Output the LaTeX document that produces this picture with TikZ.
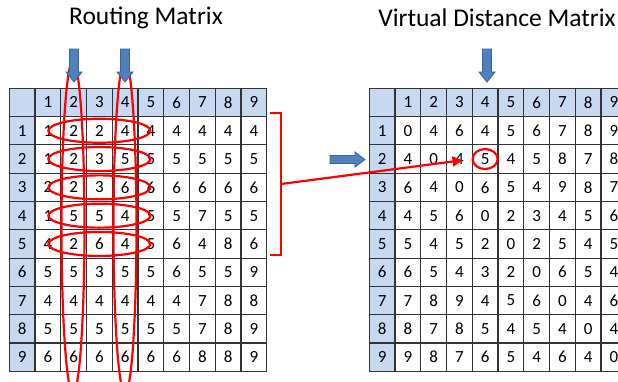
\documentclass[tikz,border=0pt]{standalone}
\usepackage{fontspec}
\setmainfont{Carlito}
\usetikzlibrary{shapes.geometric,arrows.meta}
\definecolor{hdrblue}{HTML}{C6D9F1}
\definecolor{arrblue}{HTML}{4F81BD}
\definecolor{arredge}{HTML}{3A6497}
\definecolor{gridgray}{HTML}{333333}

\begin{document}
\begin{tikzpicture}[x=1pt,y=-1pt,
  cell/.style={draw=gridgray, line width=1.1pt, minimum width=25.74pt, minimum height=28.3pt,
    inner sep=0pt, font=\fontsize{17}{17}\selectfont},
  hdr/.style={cell, fill=hdrblue},
  redline/.style={draw=red, line width=2.2pt},
  bluearrow/.style={fill=arrblue, draw=arredge, line width=0.8pt}]
\useasboundingbox (0,0) rectangle (618,381);
\clip (0,0) rectangle (618,381);

\node (ttlL) at (146,18) {\fontsize{25.5}{25.5}\selectfont Routing Matrix};
\node (ttlR) at (497,18) {\fontsize{25.5}{25.5}\selectfont Virtual Distance Matrix};

% routing matrix
\node[hdr] (L-0-0) at ({9.3+25.74*0.5},{88.3+28.3*0.5}) {};
\foreach \c in {1,...,9} {
  \node[hdr] (L-0-\c) at ({9.3+25.74*(\c+0.5)},{88.3+28.3*0.5}) {\c};
  \node[hdr] (L-\c-0) at ({9.3+25.74*0.5},{88.3+28.3*(\c+0.5)}) {\c};
}
\foreach \row [count=\r] in {{1,2,2,4,4,4,4,4,4},{1,2,3,5,5,5,5,5,5},{2,2,3,6,6,6,6,6,6},
  {1,5,5,4,5,5,7,5,5},{4,2,6,4,5,6,4,8,6},{5,5,3,5,5,6,5,5,9},
  {4,4,4,4,4,4,7,8,8},{5,5,5,5,5,5,7,8,9},{6,6,6,6,6,6,8,8,9}}
  \foreach \v [count=\c] in \row
    \node[cell] (L-\r-\c) at ({9.3+25.74*(\c+0.5)},{88.3+28.3*(\r+0.5)}) {\v};

% virtual distance matrix
\node[hdr] (R-0-0) at ({369.3+25.74*0.5},{88.3+28.3*0.5}) {};
\foreach \c in {1,...,9} {
  \node[hdr] (R-0-\c) at ({369.3+25.74*(\c+0.5)},{88.3+28.3*0.5}) {\c};
  \node[hdr] (R-\c-0) at ({369.3+25.74*0.5},{88.3+28.3*(\c+0.5)}) {\c};
}
\foreach \row [count=\r] in {{0,4,6,4,5,6,7,8,9},{4,0,4,5,4,5,8,7,8},{6,4,0,6,5,4,9,8,7},
  {4,5,6,0,2,3,4,5,6},{5,4,5,2,0,2,5,4,5},{6,5,4,3,2,0,6,5,4},
  {7,8,9,4,5,6,0,4,6},{8,7,8,5,4,5,4,0,4},{9,8,7,6,5,4,6,4,0}}
  \foreach \v [count=\c] in \row
    \node[cell] (R-\r-\c) at ({369.3+25.74*(\c+0.5)},{88.3+28.3*(\r+0.5)}) {\v};

% rings
\foreach \r in {1,...,5}
  \draw[redline] (L-\r-3) ellipse [x radius=51, y radius=12];
\draw[redline] (73,227) ellipse [x radius=11.5, y radius=166];
\draw[redline] (125,227) ellipse [x radius=11.5, y radius=166];

\draw[redline] (270,113) -- (281,113) -- (281,255) -- (270,255);
\coordinate (brk) at (281,184);
\node[redline, ellipse, minimum width=25pt, minimum height=20pt, inner sep=0pt] (hit) at (R-2-4) {};
\draw[redline, -{Triangle[length=10pt,width=10pt]}, shorten >=9pt] (brk) -- (hit.west);

% blue arrows
\foreach \x in {74,125,487}
  \filldraw[bluearrow] (\x-4.5,49) -- (\x+4.5,49) -- (\x+4.5,72) -- (\x+8,72) -- (\x,82)
    -- (\x-8,72) -- (\x-4.5,72) -- cycle;
\filldraw[bluearrow] (330,155.5) -- (355,155.5) -- (355,152) -- (365,159.5) -- (355,167)
  -- (355,163.5) -- (330,163.5) -- cycle;

\end{tikzpicture}
\end{document}
